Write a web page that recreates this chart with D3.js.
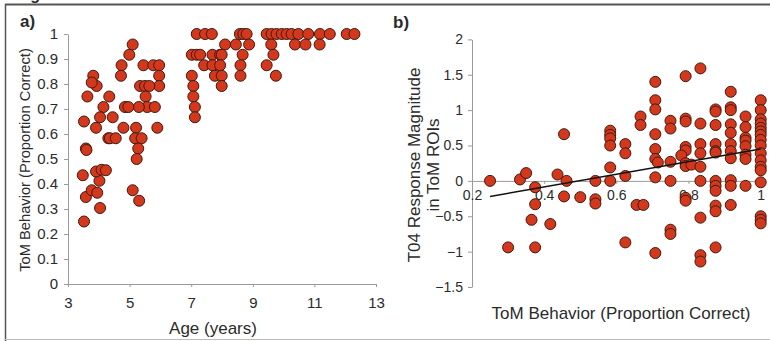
<!DOCTYPE html>
<html>
<head>
<meta charset="utf-8">
<script src="https://cdn.jsdelivr.net/npm/d3@7"></script>
<style>
  body { margin: 0; background: #fff; }
  svg text { font-family: "Liberation Sans", Arial, sans-serif; fill: #2b2b2b; }
  .axis path, .axis line { stroke: #9a9a9a; }
</style>
</head>
<body>
<div id="chart"></div>
<script>
// panel a: age vs ToM behaviour
var ageA = [5.1, 4.99, 4.74, 4.72, 5.45, 5.77, 5.96, 5.96, 5.96, 5.34, 5.5, 5.64, 5.52,
    5.57, 5.3, 5.82, 4.85, 4.96, 4.34, 4.15, 4.04, 4.45, 3.91, 4.8, 5.21, 5.9,
    4.31, 4.36, 4.55, 5.18, 5.39, 5.28, 5.23, 3.52, 3.63, 3.82, 3.93, 3.77, 3.58, 3.6,
    3.48, 3.58, 3.77, 3.95, 4.02, 3.91, 4.09, 4.23, 4.04, 3.52, 5.1, 5.31,
    7.18, 7.45, 7.67, 8.58, 8.69, 8.8, 9.45, 9.61, 9.77, 9.94, 10.1, 10.26, 10.48, 10.8, 11.18, 11.5, 12.05, 12.3,
    8.1, 8.45, 8.88, 9.6, 10.37, 10.71, 11.17,
    7.02, 7.18, 7.29, 7.69, 7.94, 7.99, 8.67, 9.67,
    7.42, 7.69, 7.94, 8.6, 9.45,
    7.02, 7.77, 7.99, 8.6, 9.75,
    7.07, 7.99, 7.07, 7.12, 7.12];
var tomA = [0.958, 0.917, 0.875, 0.833, 0.875, 0.875, 0.875, 0.833, 0.792, 0.792, 0.792, 0.792, 0.75,
    0.708, 0.708, 0.708, 0.708, 0.708, 0.75, 0.708, 0.667, 0.667, 0.625, 0.625, 0.625, 0.625,
    0.583, 0.583, 0.583, 0.583, 0.583, 0.542, 0.5, 0.65, 0.75, 0.833, 0.792, 0.806, 0.542, 0.536,
    0.435, 0.348, 0.375, 0.365, 0.413, 0.45, 0.457, 0.455, 0.304, 0.25, 0.375, 0.333,
    1, 1, 1, 1, 1, 1, 1, 1, 1, 1, 1, 1, 1, 1, 1, 1, 1, 1,
    0.958, 0.958, 0.958, 0.958, 0.958, 0.958, 0.958,
    0.917, 0.917, 0.917, 0.917, 0.917, 0.917, 0.917, 0.917,
    0.875, 0.875, 0.875, 0.875, 0.875,
    0.833, 0.833, 0.833, 0.833, 0.833,
    0.792, 0.792, 0.75, 0.708, 0.667];

// panel b: ToM behaviour vs response magnitude
var behB = [0.25, 0.333, 0.35, 0.375, 0.375, 0.365, 0.375, 0.3, 0.417, 0.437, 0.455, 0.455, 0.462,
    0.5, 0.542, 0.542, 0.542,
    0.583, 0.583, 0.583, 0.583, 0.583, 0.583,
    0.625, 0.625, 0.625, 0.625, 0.656, 0.675, 0.667, 0.667,
    0.708, 0.708, 0.708, 0.708, 0.708, 0.708, 0.715, 0.708, 0.708,
    0.75, 0.75, 0.75, 0.75, 0.75, 0.75,
    0.792, 0.792, 0.792, 0.792, 0.792, 0.78, 0.792, 0.792, 0.792, 0.792, 0.808,
    0.833, 0.833, 0.833, 0.833, 0.833, 0.833, 0.833, 0.833, 0.833,
    0.875, 0.875, 0.875, 0.875, 0.875, 0.875, 0.875, 0.875, 0.875, 0.875, 0.875, 0.875,
    0.917, 0.917, 0.917, 0.917, 0.917, 0.917, 0.917, 0.917, 0.917, 0.917, 0.917,
    0.958, 0.958, 0.958, 0.958, 0.958, 0.958, 0.958, 0.958,
    1, 1, 1, 1, 1, 1, 1, 1, 1, 1, 1, 1, 1, 1, 1, 1, 1];
var respB = [0, 0.02, 0.11, -0.09, -0.33, -0.55, -0.94, -0.94, -0.61, 0.09, 0.66, -0.22, 0,
    -0.23, 0, -0.26, -0.32,
    0.71, 0.65, 0.6, 0.5, 0.19, 0,
    0.52, 0.39, 0.07, -0.87, -0.34, -0.34, 0.91, 0.79,
    1.4, 1.14, 1.01, 0.66, 0.45, 0.31, 0.26, 0.05, -1.02,
    0.85, 0.74, 0.27, 0, -0.69, -0.75,
    1.48, 0.88, 0.84, 0.48, 0.43, 0.36, 0.25, 0.21, -0.24, -0.28, 0.23,
    1.59, 0.81, 0.52, 0.39, 0.2, 0, -0.52, -1.05, -1.14,
    1.01, 0.98, 0.79, 0.52, 0.42, 0.4, 0, -0.07, -0.14, -0.35, -0.43, -0.94,
    1.26, 1.04, 1.0, 0.8, 0.68, 0.52, 0.42, 0.32, 0.01, -0.07, -0.34,
    0.91, 0.76, 0.61, 0.57, 0.49, 0.37, 0.31, -0.07,
    1.14, 1.0, 0.87, 0.81, 0.75, 0.7, 0.65, 0.58, 0.5, 0.39, 0.29, 0.2, 0.15, -0.02, -0.5, -0.55, -0.6];

// regression line ends
var fitX = [0.25, 1];
var fitY = [-0.22, 0.45];

var ticksAx = [3, 5, 7, 9, 11, 13];
var ticksAy = [0, 0.1, 0.2, 0.3, 0.4, 0.5, 0.6, 0.7, 0.8, 0.9, 1];
var ticksBx = [0.2, 0.4, 0.6, 0.8, 1];
var ticksBy = [-1.5, -1, -0.5, 0, 0.5, 1, 1.5, 2];

var W = 770, H = 341;
var dotFill = "#d4381c", dotStroke = "#3f1a10", r = 5.5;

var svg = d3.select("#chart").append("svg")
    .attr("width", W)
    .attr("height", H);

// frame round the figure
svg.append("text")
    .attr("x", 16).attr("y", 0)
    .style("font-size", "16px").style("font-weight", "bold")
    .text("Figure");
svg.append("line").attr("x1", 5).attr("x2", W).attr("y1", 4.5).attr("y2", 4.5)
    .attr("stroke", "#555").attr("stroke-width", 2);
svg.append("line").attr("x1", 5.5).attr("x2", 5.5).attr("y1", 4).attr("y2", H)
    .attr("stroke", "#555").attr("stroke-width", 1.5);
svg.append("line").attr("x1", 5).attr("x2", W).attr("y1", 339.5).attr("y2", 339.5)
    .attr("stroke", "#bbb").attr("stroke-width", 1);

// ---- panel a ----
var xa = d3.scaleLinear().domain([3, 13]).range([68, 376]);
var ya = d3.scaleLinear().domain([0, 1]).range([284, 34]);

svg.append("g")
    .attr("class", "axis")
    .attr("transform", "translate(0," + ya(0) + ")")
    .call(d3.axisBottom(xa).tickValues(ticksAx).tickSize(3).tickSizeOuter(0).tickPadding(10))
    .selectAll("text").style("font-size", "15px").attr("fill", "#2b2b2b");

svg.append("g")
    .attr("class", "axis")
    .attr("transform", "translate(" + xa(3) + ",0)")
    .call(d3.axisLeft(ya).tickValues(ticksAy).tickSize(4).tickSizeOuter(0).tickPadding(6)
        .tickFormat(function(d) { return d3.format("")(d); }))
    .selectAll("text").style("font-size", "15px").attr("fill", "#2b2b2b");

svg.append("g").selectAll("circle")
    .data(ageA.map(function(d, i) { return [d, tomA[i]]; }))
    .enter().append("circle")
    .attr("cx", function(d) { return xa(d[0]); })
    .attr("cy", function(d) { return ya(d[1]); })
    .attr("r", r)
    .attr("fill", dotFill)
    .attr("stroke", dotStroke)
    .attr("stroke-width", 1);

svg.append("text")
    .attr("x", 20).attr("y", 27)
    .style("font-size", "17px").style("font-weight", "bold")
    .text("a)");

svg.append("text")
    .attr("transform", "translate(30," + 160 + ") rotate(-90)")
    .style("text-anchor", "middle")
    .style("font-size", "14.7px")
    .text("ToM Behavior (Proportion Correct)");

svg.append("text")
    .attr("x", 213).attr("y", 334)
    .style("text-anchor", "middle")
    .style("font-size", "17px")
    .text("Age (years)");

// ---- panel b ----
var xb = d3.scaleLinear().domain([0.2, 1]).range([472, 760.7]);
var yb = d3.scaleLinear().domain([-1.5, 2]).range([287, 39.4]);

svg.append("g")
    .attr("class", "axis")
    .attr("transform", "translate(" + xb(0.2) + ",0)")
    .call(d3.axisLeft(yb).tickValues(ticksBy).tickSize(4).tickSizeOuter(0).tickPadding(5)
        .tickFormat(function(d) { return d3.format("")(d); }))
    .selectAll("text").style("font-size", "14px").attr("fill", "#2b2b2b");

svg.append("g")
    .attr("class", "axis")
    .attr("transform", "translate(0," + yb(0) + ")")
    .call(d3.axisBottom(xb).tickValues(ticksBx).tickSize(3).tickSizeOuter(0).tickPadding(6)
        .tickFormat(function(d) { return d3.format("")(d); }))
    .selectAll("text").style("font-size", "14px").attr("fill", "#2b2b2b");

svg.append("g").selectAll("circle")
    .data(behB.map(function(d, i) { return [d, respB[i]]; }))
    .enter().append("circle")
    .attr("cx", function(d) { return xb(d[0]); })
    .attr("cy", function(d) { return yb(d[1]); })
    .attr("r", r)
    .attr("fill", dotFill)
    .attr("stroke", dotStroke)
    .attr("stroke-width", 1);

svg.append("line")
    .attr("x1", xb(fitX[0])).attr("y1", yb(fitY[0]))
    .attr("x2", xb(fitX[1])).attr("y2", yb(fitY[1]))
    .attr("stroke", "#111")
    .attr("stroke-width", 1.5);

svg.append("text")
    .attr("x", 393).attr("y", 28)
    .style("font-size", "17px").style("font-weight", "bold")
    .text("b)");

var ylab = svg.append("text")
    .attr("transform", "translate(420,165) rotate(-90)")
    .style("text-anchor", "middle")
    .style("font-size", "17px");
ylab.append("tspan").attr("x", 0).attr("dy", 0).text("T04 Response Magnitude");
ylab.append("tspan").attr("x", 0).attr("dy", "1.1em").text("in ToM ROIs");

svg.append("text")
    .attr("x", 621).attr("y", 319)
    .style("text-anchor", "middle")
    .style("font-size", "17px")
    .text("ToM Behavior (Proportion Correct)");
</script>
</body>
</html>
